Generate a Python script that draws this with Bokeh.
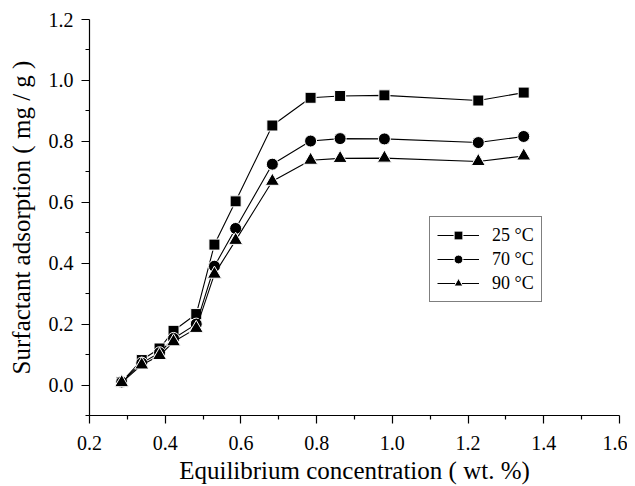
from bokeh.plotting import figure
from bokeh.models import Range1d, FixedTicker, PrintfTickFormatter, Legend, LegendItem
from bokeh.embed import file_html
from bokeh.resources import INLINE

# ---- data ----
conc = [0.285, 0.338, 0.385, 0.422, 0.482, 0.530, 0.586, 0.683, 0.784, 0.862, 0.979, 1.227, 1.347]
ads_25 = [0.010, 0.082, 0.120, 0.178, 0.233, 0.461, 0.603, 0.852, 0.943, 0.949, 0.951, 0.934, 0.960]
ads_70 = [0.010, 0.072, 0.106, 0.153, 0.200, 0.390, 0.514, 0.725, 0.801, 0.809, 0.808, 0.796, 0.816]
ads_90 = [0.008, 0.066, 0.097, 0.142, 0.186, 0.364, 0.475, 0.669, 0.738, 0.744, 0.745, 0.734, 0.752]
series_labels = ["25 \u00b0C", "70 \u00b0C", "90 \u00b0C"]
x_ticks = [0.2, 0.4, 0.6, 0.8, 1.0, 1.2, 1.4, 1.6]
x_minor = [0.3, 0.5, 0.7, 0.9, 1.1, 1.3, 1.5]
y_ticks = [0.0, 0.2, 0.4, 0.6, 0.8, 1.0, 1.2]
y_minor = [-0.1, 0.1, 0.3, 0.5, 0.7, 0.9, 1.1]

FONT = "Liberation Serif"

p = figure(width=627, height=486, output_backend="svg", toolbar_location=None,
           x_range=Range1d(0.2, 1.6), y_range=Range1d(-0.1, 1.2),
           min_border_left=89, min_border_right=8, min_border_top=19, min_border_bottom=71)
p.outline_line_color = None
p.xgrid.visible = False
p.ygrid.visible = False
p.background_fill_color = "white"
p.border_fill_color = "white"

p.xaxis.ticker = FixedTicker(ticks=x_ticks, minor_ticks=x_minor)
p.yaxis.ticker = FixedTicker(ticks=y_ticks, minor_ticks=y_minor)
for ax in (p.xaxis, p.yaxis):
    ax.formatter = PrintfTickFormatter(format="%.1f")
    ax.axis_line_color = "black"
    ax.axis_line_width = 1.2
    ax.major_tick_line_color = "black"
    ax.minor_tick_line_color = "black"
    ax.major_tick_line_width = 1.2
    ax.minor_tick_line_width = 1.2
    ax.major_tick_in = 0
    ax.minor_tick_in = 0
    ax.major_tick_out = 8
    ax.minor_tick_out = 4
    ax.major_label_text_font = FONT
    ax.major_label_text_font_size = "20px"
    ax.major_label_text_color = "black"
    ax.axis_label_text_font = FONT
    ax.axis_label_text_font_size = "25px"
    ax.axis_label_text_font_style = "normal"
    ax.axis_label_text_color = "black"

p.xaxis.major_label_standoff = 12
p.yaxis.major_label_standoff = 8
p.xaxis.axis_label = "Equilibrium concentration ( wt. %)"
p.yaxis.axis_label = "Surfactant adsorption ( mg / g )"
p.xaxis.axis_label_standoff = 4
p.yaxis.axis_label_standoff = 11

items = []
markers = ["square", "circle", "triangle"]
sizes = [11, 12, 14]
for ys, lab, mk, sz in zip([ads_25, ads_70, ads_90], series_labels, markers, sizes):
    ln = p.line(conc, ys, line_color="black", line_width=1.1)
    sc = p.scatter(conc, ys, marker=mk, size=sz, fill_color="black",
                   line_color="white", line_width=1)
    items.append(LegendItem(label=lab, renderers=[ln, sc]))

legend = Legend(items=items, location=(340, 113))
legend.label_text_font = FONT
legend.label_text_font_size = "18px"
legend.label_text_color = "black"
legend.glyph_width = 42
legend.glyph_height = 22
legend.label_height = 22
legend.spacing = 2
legend.padding = 7
legend.margin = 0
legend.label_standoff = 13
legend.border_line_color = "black"
legend.border_line_width = 1
legend.background_fill_alpha = 1
p.add_layout(legend, "center")

with open("out.html", "w") as f:
    f.write(file_html(p, INLINE))
